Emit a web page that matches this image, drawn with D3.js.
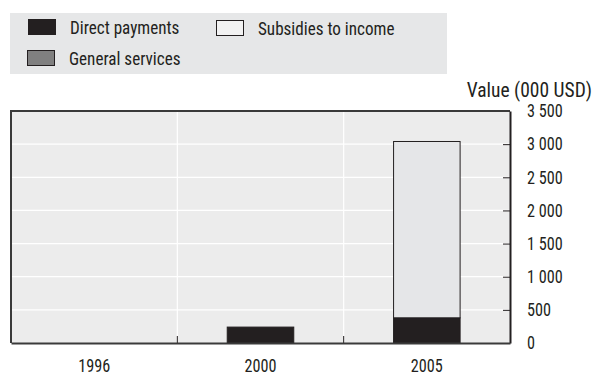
<!DOCTYPE html>
<html>
<head>
<meta charset="utf-8">
<script src="https://cdn.jsdelivr.net/npm/d3@7"></script>
<style>
  body { margin: 0; background: #fff; }
  svg { display: block; }
  text { font-family: "Roboto Condensed", "Liberation Sans Narrow", "Arial Narrow", sans-serif; fill: #231f20; }
</style>
</head>
<body>
<div id="chart"></div>
<script>
const years = ["1996", "2000", "2005"];
const directPayments = [0, 240, 380];
const subsidiesToIncome = [0, 0, 2660];
const generalServices = [0, 0, 0];
const yTicks = [0, 500, 1000, 1500, 2000, 2500, 3000, 3500];

const W = 598, H = 376;
const margin = {top: 111, right: 88, bottom: 33, left: 11};
const fontStack = "'Roboto Condensed', 'Liberation Sans Narrow', 'Arial Narrow', sans-serif";
const squeeze = 0.9;

// narrow the glyphs a little, the source font is more condensed than ours
function condense(sel) {
    sel.each(function() {
        const w = this.getComputedTextLength();
        d3.select(this)
            .attr("textLength", w * squeeze)
            .attr("lengthAdjust", "spacingAndGlyphs");
    });
}

const svg = d3.select("#chart").append("svg")
    .attr("width", W)
    .attr("height", H);

// legend
const legendItems = [
    {label: "Direct payments", fill: "#231f20", x: 28, y: 19},
    {label: "Subsidies to income", fill: "#f2f2f2", x: 216, y: 20},
    {label: "General services", fill: "#808080", x: 27, y: 50}
];
svg.append("rect")
    .attr("x", 10).attr("y", 13)
    .attr("width", 437).attr("height", 61)
    .attr("fill", "#e6e7e8");
const lg = svg.append("g").selectAll("g")
    .data(legendItems)
    .join("g")
    .attr("transform", d => `translate(${d.x},${d.y})`);
lg.append("rect")
    .attr("x", 0.5).attr("y", 0.5)
    .attr("width", 27).attr("height", 15)
    .attr("fill", d => d.fill)
    .attr("stroke", "#231f20")
    .attr("stroke-width", 1);
lg.append("text")
    .attr("x", 42).attr("y", 15)
    .attr("font-size", 19)
    .text(d => d.label)
    .call(condense);

const x = d3.scaleBand()
    .domain(years)
    .range([margin.left, W - margin.right])
    .paddingInner(0);

const y = d3.scaleLinear()
    .domain([0, 3500])
    .range([H - margin.bottom, margin.top]);

// plot background
svg.append("rect")
    .attr("x", margin.left).attr("y", margin.top)
    .attr("width", W - margin.right - margin.left)
    .attr("height", H - margin.bottom - margin.top)
    .attr("fill", "#ececec");

// horizontal grid
svg.append("g")
    .selectAll("line")
    .data(yTicks.slice(1, -1))
    .join("line")
    .attr("x1", margin.left).attr("x2", W - margin.right)
    .attr("y1", d => y(d)).attr("y2", d => y(d))
    .attr("stroke", "#fff").attr("stroke-width", 1.2);

// vertical grid between categories
const seps = years.slice(1).map(d => x(d));
svg.append("g")
    .selectAll("line")
    .data(seps)
    .join("line")
    .attr("x1", d => d).attr("x2", d => d)
    .attr("y1", margin.top).attr("y2", H - margin.bottom)
    .attr("stroke", "#fff").attr("stroke-width", 1.2);
svg.append("g")
    .selectAll("line")
    .data(seps)
    .join("line")
    .attr("x1", d => d).attr("x2", d => d)
    .attr("y1", H - margin.bottom - 7).attr("y2", H - margin.bottom)
    .attr("stroke", "#231f20").attr("stroke-width", 1);

// stacked bars
const rows = years.map((yr, i) => ({
    year: yr,
    direct: directPayments[i],
    subsidies: subsidiesToIncome[i],
    general: generalServices[i]
}));
const keys = ["direct", "subsidies", "general"];
const fills = {direct: "#231f20", subsidies: "#e5e6e8", general: "#808080"};
const stack = d3.stack().keys(keys)(rows);
const barW = x.bandwidth() * 0.4;

svg.append("g")
    .selectAll("g")
    .data(stack)
    .join("g")
    .attr("fill", d => fills[d.key])
    .selectAll("rect")
    .data(d => d.filter(p => p[1] - p[0] > 0))
    .join("rect")
    .attr("x", d => x(d.data.year) + (x.bandwidth() - barW) / 2)
    .attr("y", d => y(d[1]))
    .attr("width", barW)
    .attr("height", d => y(d[0]) - y(d[1]))
    .attr("stroke", "#231f20")
    .attr("stroke-width", 1);

// frame
svg.append("path")
    .attr("d", `M${margin.left},${H - margin.bottom}V${margin.top}H${W - margin.right}`)
    .attr("fill", "none")
    .attr("stroke", "#3a3a3a")
    .attr("stroke-width", 2);

// right axis
const yAxis = d3.axisRight(y)
    .tickValues(yTicks)
    .tickSize(0)
    .tickPadding(17)
    .tickFormat(d => d3.format(",")(d).replace(/,/g, " "));
const ya = svg.append("g")
    .attr("transform", `translate(${W - margin.right},0)`)
    .call(yAxis);
ya.select(".domain").attr("stroke", "#231f20").attr("stroke-width", 2);
ya.selectAll("text").attr("font-size", 18).attr("fill", "#231f20")
    .style("font-family", fontStack)
    .call(condense);
ya.selectAll(".tick")
    .filter(d => d > 0 && d < 3500)
    .append("line")
    .attr("x1", -7).attr("x2", 0)
    .attr("stroke", "#231f20");

svg.append("text")
    .attr("x", 592).attr("y", 97)
    .attr("text-anchor", "end")
    .attr("font-size", 19.5)
    .text("Value (000 USD)");

// bottom axis
const xAxis = d3.axisBottom(x).tickSize(0).tickPadding(16);
const xa = svg.append("g")
    .attr("transform", `translate(0,${H - margin.bottom})`)
    .call(xAxis);
xa.select(".domain").attr("stroke", "#3a3a3a").attr("stroke-width", 2);
xa.selectAll("text").attr("font-size", 18).attr("fill", "#231f20")
    .style("font-family", fontStack)
    .call(condense);
</script>
</body>
</html>
